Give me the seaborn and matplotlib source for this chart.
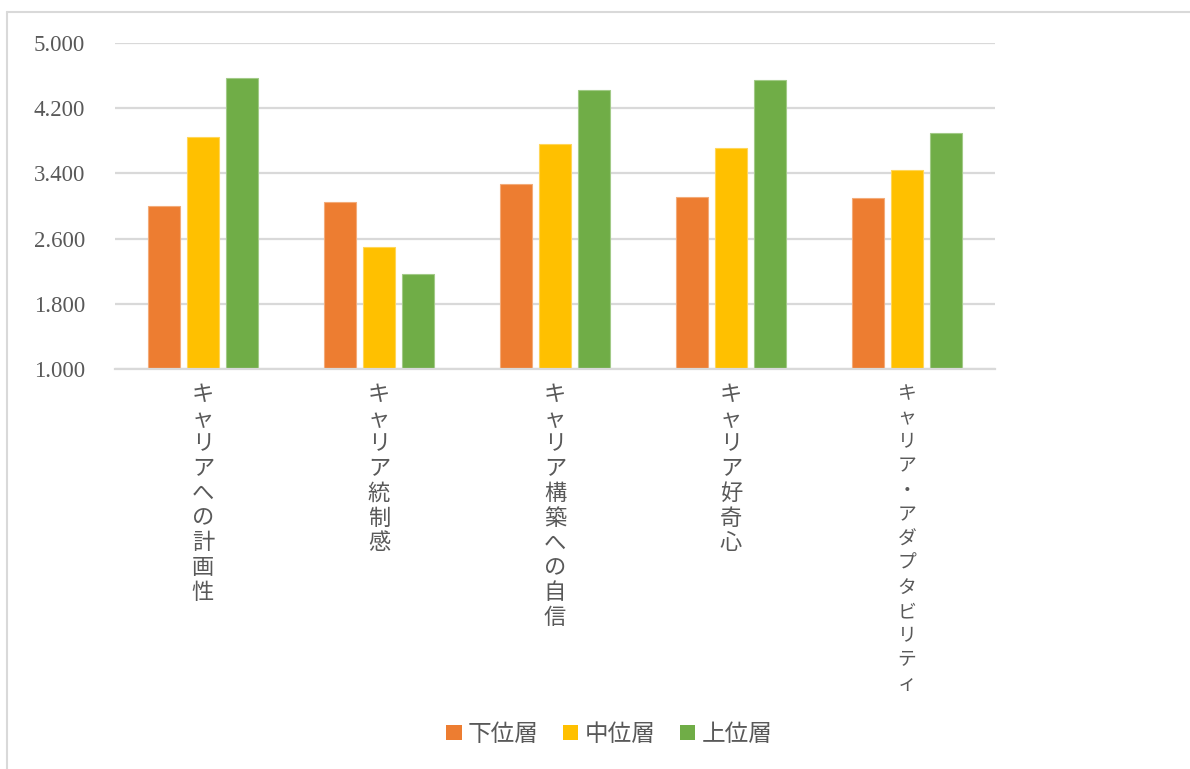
import matplotlib
matplotlib.use("Agg")
import matplotlib.pyplot as plt
from matplotlib.lines import Line2D
from matplotlib.patches import Patch
import matplotlib.colors as mcolors
import seaborn as sns
import pandas as pd

# Scale names and group means
categories = [
    "キャリアへの計画性",
    "キャリア統制感",
    "キャリア構築への自信",
    "キャリア好奇心",
    "キャリア・アダプタビリティ",
]
groups = ["下位層", "中位層", "上位層"]
lower = [3.000, 3.052, 3.263, 3.110, 3.093]
middle = [3.849, 2.500, 3.760, 3.711, 3.443]
upper = [4.561, 2.166, 4.415, 4.537, 3.898]
yticks = [1.0, 1.8, 2.6, 3.4, 4.2, 5.0]
ytick_labels = ["1.000", "1.800", "2.600", "3.400", "4.200", "5.000"]

colors = ["#ED7D31", "#FFC000", "#70AD47"]
text_gray = "#595959"
grid_gray = "#D9D9D9"

df = pd.DataFrame({
    "category": categories * 3,
    "group": [g for g in groups for _ in categories],
    "value": lower + middle + upper,
})

sns.set_theme(style="white")
plt.rcParams["font.family"] = ["Noto Sans CJK JP", "DejaVu Sans"]

fig = plt.figure(figsize=(11.9, 7.69), dpi=100)
ax = fig.add_axes([0.0966, 0.5198, 0.7395, 0.4249])

sns.barplot(
    data=df, x="category", y="value", hue="group",
    order=categories, hue_order=groups, palette=colors,
    width=0.665, gap=0.2, errorbar=None, legend=False, ax=ax,
    saturation=1.0,
)

# light outline around each bar
for p in ax.patches:
    fc = mcolors.to_rgb(p.get_facecolor())
    light = tuple(c + (1 - c) * 0.35 for c in fc)
    p.set_edgecolor(light)
    p.set_linewidth(0.8)

ax.set_ylim(1.0, 5.0)
ax.set_xlim(-0.5, len(categories) - 0.5)
ax.set_yticks(yticks)
ax.set_yticklabels(ytick_labels, family=["Liberation Serif", "DejaVu Serif"],
                   fontsize=16.5, color=text_gray)
ax.yaxis.grid(True, color=grid_gray, linewidth=1.6)
ax.set_axisbelow(True)
for side in ["left", "right", "top"]:
    ax.spines[side].set_visible(False)
ax.spines["bottom"].set_color(grid_gray)
ax.spines["bottom"].set_linewidth(1.6)

# vertical (stacked) category labels; the longest one is set smaller
ax.set_xticks(range(len(categories)))
ax.set_xticklabels(["\n".join(c) for c in categories], color=text_gray, va="top")
for lbl, cat in zip(ax.get_xticklabels(), categories):
    if len(cat) > 12:
        lbl.set_fontsize(13.5)
        lbl.set_linespacing(1.2)
    else:
        lbl.set_fontsize(16)
        lbl.set_linespacing(1.095)
ax.tick_params(axis="x", length=0, pad=10)
ax.tick_params(axis="y", length=0, pad=21.6)
ax.set_xlabel("")
ax.set_ylabel("")

handles = [Patch(facecolor=c, edgecolor="none") for c in colors]
fig.legend(handles, groups, loc="center", bbox_to_anchor=(0.512, 0.045),
           ncol=3, frameon=False, fontsize=17, labelcolor=text_gray,
           handlelength=0.64, handleheight=0.64, handletextpad=0.25,
           columnspacing=1.06)

# outer chart border (left and top edges)
fig.add_artist(Line2D([0.006, 0.006], [0.0, 0.985], transform=fig.transFigure,
                      color="#D9D9D9", linewidth=1.5))
fig.add_artist(Line2D([0.006, 1.0], [0.985, 0.985], transform=fig.transFigure,
                      color="#D9D9D9", linewidth=1.5))

fig.savefig("out.png", dpi=100, facecolor="white")
